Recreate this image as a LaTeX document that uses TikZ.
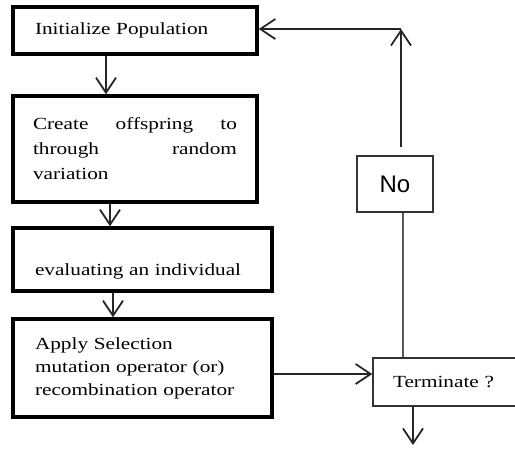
\documentclass[tikz,border=0pt]{standalone}
\usepackage{fontspec}
\setmainfont{Liberation Serif}[FakeStretch=1.25]
\newfontfamily\nofont{Liberation Sans}
\usetikzlibrary{arrows.meta}
\begin{document}
\begin{tikzpicture}[x=1pt,y=-1pt,
  mainbox/.style={draw=black, line width=3.5pt, inner ysep=0pt, font=\fontsize{17}{25}\selectfont},
  thinbox/.style={draw=black!80, line width=1.5pt, inner ysep=0pt},
  arr/.style={-{Straight Barb[length=15pt,width=20pt]}, line width=1.8pt, draw=black!85},
  conn/.style={line width=1.3pt, draw=black!65}]
\useasboundingbox (0,0) rectangle (515,450);

\node[mainbox, minimum width=244pt, minimum height=47pt, text width=200pt, inner xsep=22pt, align=left] (init) at (135,30.5) {Initialize Population};
\node[mainbox, minimum width=244pt, minimum height=106pt, text width=204pt, inner xsep=20pt, align=justify] (create) at (135,149) {Create offspring to\linebreak through random\linebreak variation};
\node[mainbox, minimum width=259pt, minimum height=63pt, text width=215pt, inner xsep=22pt, align=left, text height=47pt, text depth=16pt] (eval) at (142.5,259.5) {evaluating an individual};
\node[mainbox, font=\fontsize{17}{23}\selectfont, minimum width=259pt, minimum height=98pt, text width=215pt, inner xsep=22pt, align=left] (apply) at (142.5,368) {Apply Selection\\ mutation operator (or)\\ recombination operator};
\node[thinbox, font=\fontsize{17}{22}\selectfont, minimum width=156pt, minimum height=48pt, text width=116pt, inner xsep=20pt, align=left] (term) at (451,382) {Terminate ?};
\node[thinbox, font=\nofont\fontsize{24}{28}\selectfont, minimum width=76pt, minimum height=56pt] (no) at (395,184) {No};

\coordinate (endpt) at (413,445);
\coordinate (corner) at (401,29);

\draw[arr] ([xshift=-29pt]init.south) -- ([xshift=-29pt]create.north);
\draw[arr] ([xshift=-25pt]create.south) -- ([xshift=-32.5pt]eval.north);
\draw[arr] ([xshift=-29.5pt]eval.south) -- ([xshift=-29.5pt]apply.north);
\draw[arr] ([yshift=-6pt]apply.east) -- ([yshift=-6pt]apply.east -| term.west);
\draw[arr] (term.south -| endpt) -- (endpt);
\draw[conn] (term.north -| 403,0) -- ([xshift=8pt]no.south);
\draw[arr] ([xshift=6pt,yshift=8pt]no.north) -- (corner);
\draw[arr] (corner) -- (init.east |- corner);
\end{tikzpicture}
\end{document}
